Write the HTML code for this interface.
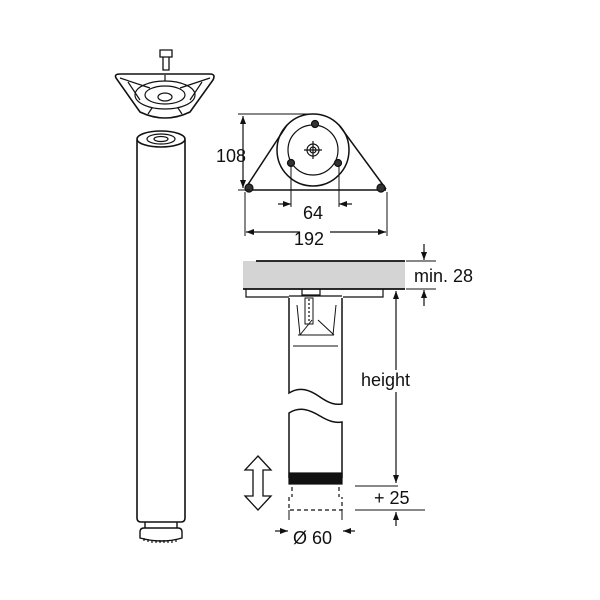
<!DOCTYPE html><html><head><style>body{margin:0;background:#fff}svg{display:block}text{font-family:"Liberation Sans",Arial,sans-serif;fill:#111}</style></head><body>
<svg width="600" height="600" viewBox="0 0 600 600" xmlns="http://www.w3.org/2000/svg" fill="none" stroke="#111" stroke-width="1.2">
<defs><marker id="a" markerWidth="8" markerHeight="6" refX="8" refY="3" orient="auto" markerUnits="userSpaceOnUse"><path d="M0,0L8,3L0,6z" fill="#111" stroke="none"/></marker></defs>
<!-- bolt -->
<path d="M160,50h12v7h-12z M163,57v13h6v-13" stroke-width="1.3"/>
<!-- mounting plate -->
<path d="M116,78 Q114,74 120,74 L210,74 Q216,74 213,80 L190,112 Q165,124 140,112 Z" stroke-width="1.6"/>
<ellipse cx="165" cy="95" rx="30" ry="14"/><ellipse cx="165" cy="95" rx="20" ry="9"/><ellipse cx="165" cy="97" rx="7" ry="4"/>
<path d="M120,78L150,88M210,78L180,88M140,100L128,82M190,100L202,82M165,81v-6M152,108l-4,6M178,108l4,6"/>
<!-- leg -->
<path d="M137,140 L137,518 Q137,522 141,522 L181,522 Q185,522 185,518 L185,140" stroke-width="1.6"/>
<ellipse cx="161" cy="139" rx="24" ry="8" stroke-width="1.6"/>
<ellipse cx="161" cy="139" rx="14" ry="5"/><ellipse cx="161" cy="139" rx="7" ry="2.5"/>
<path d="M145,522v6M177,522v6M144,528 L178,528 Q182,528 182,532 L182,538 Q162,544 140,538 L140,532 Q140,528 144,528" stroke-width="1.4"/>
<path d="M144,538v3M148,539v3M152,540v3M156,540v3M160,540v3M164,540v3M168,540v3M172,540v3M176,539v3" />
<!-- top view plate -->
<path d="M245,189 L287,125 M339,125 L386,189 M245,190 L386,190" stroke-width="1.5"/>
<circle cx="313" cy="150" r="36" stroke-width="1.5"/><circle cx="313" cy="150" r="25"/>
<circle cx="313" cy="150" r="6"/><circle cx="313" cy="150" r="3"/><path d="M304,150h18M313,141v18"/>
<g fill="#333"><circle cx="315" cy="124" r="3.5"/><circle cx="291" cy="163" r="3.5"/><circle cx="338" cy="163" r="3.5"/><circle cx="249" cy="188" r="4"/><circle cx="381" cy="188" r="4"/></g>
<path d="M238,114H312M238,190H250" stroke-width="1"/>
<path d="M243,150V116" marker-end="url(#a)"/><path d="M243,150V188" marker-end="url(#a)"/>
<path d="M291,165V207M339,165V207M245,192V236M387,192V236" stroke-width="1"/>
<path d="M278,204H291" marker-end="url(#a)"/><path d="M352,204H339" marker-end="url(#a)"/>
<path d="M300,232H246" marker-end="url(#a)"/><path d="M330,232H386" marker-end="url(#a)"/>
<text x="216" y="162" font-size="18" stroke="none">108</text>
<text x="303" y="219" font-size="18" stroke="none">64</text>
<text x="294" y="245" font-size="18" stroke="none">192</text>
<!-- table slab -->
<rect x="243" y="261" width="162" height="28" fill="#d4d4d4" stroke="none"/>
<path d="M256,261H405M243,289H405" stroke-width="1.8"/>
<path d="M406,261H436M406,289H436" stroke-width="1"/>
<path d="M424,244V260" marker-end="url(#a)"/><path d="M424,306V290" marker-end="url(#a)"/>
<text x="414" y="282" font-size="18" stroke="none">min. 28</text>
<!-- bracket -->
<path d="M246,289v8h43M302,289v6h18v-6M343,297h40v-8M289,296h53" />
<path d="M305,298h8v26h-8z" stroke-width="1"/>
<path d="M308,300h2M308,304h2M308,308h2M308,312h2M308,316h2M308,320h2"/>
<!-- leg section -->
<path d="M289,298V393 C300,386 310,390 320,397 C330,404 336,405 342,404 V298" stroke-width="1.5"/>
<path d="M297,305L300,335M336,305L333,335M293,346H338M298,335H334M300,335L312,320M334,335L318,320" stroke-width="1"/>
<path d="M289,478 V413 C300,406 310,410 320,416 C330,422 336,423 342,422 V478" stroke-width="1.5"/>
<rect x="289" y="473" width="53" height="11" fill="#111"/>
<path d="M292,487v10M339,487v10M289,497v13h53v-13" stroke-dasharray="4,3"/>
<path d="M289,510v10M342,510v10" stroke-width="1"/>
<!-- height dim -->
<path d="M396,370V291" marker-end="url(#a)"/><path d="M396,392V483" marker-end="url(#a)"/>
<path d="M355,486H398M355,510H425" stroke-width="1"/>
<path d="M396,526V512" marker-end="url(#a)"/>
<text x="361" y="386" font-size="18" stroke="none">height</text>
<text x="374" y="504" font-size="18" stroke="none">+ 25</text>
<path d="M275,531H288" marker-end="url(#a)"/><path d="M355,531H343" marker-end="url(#a)"/>
<text x="293" y="544" font-size="18" stroke="none">Ø 60</text>
<!-- double arrow -->
<path d="M258,456 L271,470 L263,470 L263,496 L271,496 L258,510 L245,496 L253,496 L253,470 L245,470 Z" stroke-width="1.3"/>
</svg></body></html>
